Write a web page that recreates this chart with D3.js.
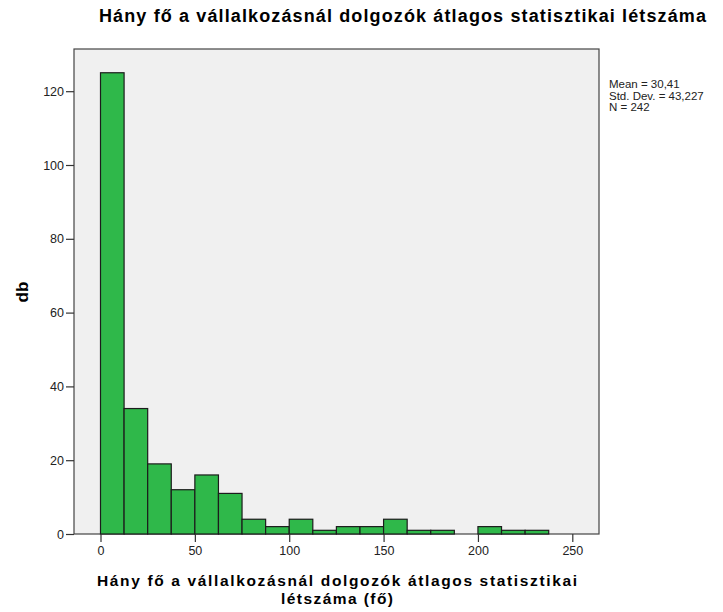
<!DOCTYPE html>
<html>
<head>
<meta charset="utf-8">
<script src="https://cdn.jsdelivr.net/npm/d3@7"></script>
<style>
  body { margin: 0; background: #fff; }
  svg text { font-family: "Liberation Sans", Arial, sans-serif; }
</style>
</head>
<body>
<div id="chart"></div>
<script>
// bin edges (width 12.5) and counts
const binStarts = [0, 12.5, 25, 37.5, 50, 62.5, 75, 87.5, 100, 112.5, 125, 137.5, 150, 162.5, 175, 187.5, 200, 212.5, 225];
const counts = [125, 34, 19, 12, 16, 11, 4, 2, 4, 1, 2, 2, 4, 1, 1, 0, 2, 1, 1];
const binWidth = 12.5;
const xTicks = [0, 50, 100, 150, 200, 250];
const yTicks = [0, 20, 40, 60, 80, 100, 120];
const statsLines = ["Mean = 30,41", "Std. Dev. = 43,227", "N = 242"];

const width = 723, height = 612;
const plot = { left: 74, top: 49, right: 599, bottom: 534 };

let svg = d3.select("#chart")
    .append("svg")
    .attr("width", width)
    .attr("height", height);

//scales
let x = d3.scaleLinear().domain([0, 250]).range([100.5, 572.3]);
let y = d3.scaleLinear().domain([0, 120]).range([plot.bottom, plot.bottom - 120 * 3.69]);

//plot background
svg.append("rect")
    .attr("x", plot.left)
    .attr("y", plot.top)
    .attr("width", plot.right - plot.left)
    .attr("height", plot.bottom - plot.top)
    .attr("fill", "#f0f0f0")
    .attr("stroke", "#444")
    .attr("stroke-width", 1.2);

//bars
svg.selectAll(".bar")
    .data(binStarts.map((s, i) => ({ s: s, c: counts[i] })).filter(d => d.c > 0))
    .join("rect")
    .attr("class", "bar")
    .attr("x", d => x(d.s))
    .attr("y", d => y(d.c))
    .attr("width", d => x(d.s + binWidth) - x(d.s))
    .attr("height", d => y(0) - y(d.c))
    .attr("fill", "#2fb84a")
    .attr("stroke", "#1c1c1c")
    .attr("stroke-width", 1.2);

//axes
let xAxis = svg.append("g")
    .attr("transform", "translate(0," + plot.bottom + ")")
    .call(d3.axisBottom(x).tickValues(xTicks).tickSize(8).tickPadding(4));
let yAxis = svg.append("g")
    .attr("transform", "translate(" + plot.left + ",0)")
    .call(d3.axisLeft(y).tickValues(yTicks).tickSize(8).tickPadding(2));

[xAxis, yAxis].forEach(a => {
    a.select(".domain").remove();
    a.selectAll("line").attr("stroke", "#333").attr("stroke-width", 1.2);
    a.selectAll("text").attr("font-size", 12.5).attr("fill", "#222")
        .style("font-family", "'Liberation Sans', Arial, sans-serif");
});

//bold labels, stretched to the widths seen in the reference
function boldText(x0, y0, size, len, str) {
    return svg.append("text")
        .attr("x", x0)
        .attr("y", y0)
        .attr("text-anchor", "middle")
        .attr("font-size", size)
        .attr("font-weight", "bold")
        .attr("textLength", len)
        .attr("lengthAdjust", "spacing")
        .text(str);
}

boldText(402.5, 22, 18, 607, "Hány fő a vállalkozásnál dolgozók átlagos statisztikai létszáma");
boldText(337, 586, 15.5, 480, "Hány fő a vállalkozásnál dolgozók átlagos statisztikai");
boldText(337, 604, 15.5, 112, "létszáma (fő)");

svg.append("text")
    .attr("transform", "translate(28,292) rotate(-90)")
    .attr("text-anchor", "middle")
    .attr("font-size", 17)
    .attr("font-weight", "bold")
    .text("db");

//stats box text
svg.selectAll(".stat")
    .data(statsLines)
    .join("text")
    .attr("class", "stat")
    .attr("x", 609)
    .attr("y", (d, i) => 88 + i * 11.5)
    .attr("font-size", 11.5)
    .attr("fill", "#222")
    .text(d => d);
</script>
</body>
</html>
